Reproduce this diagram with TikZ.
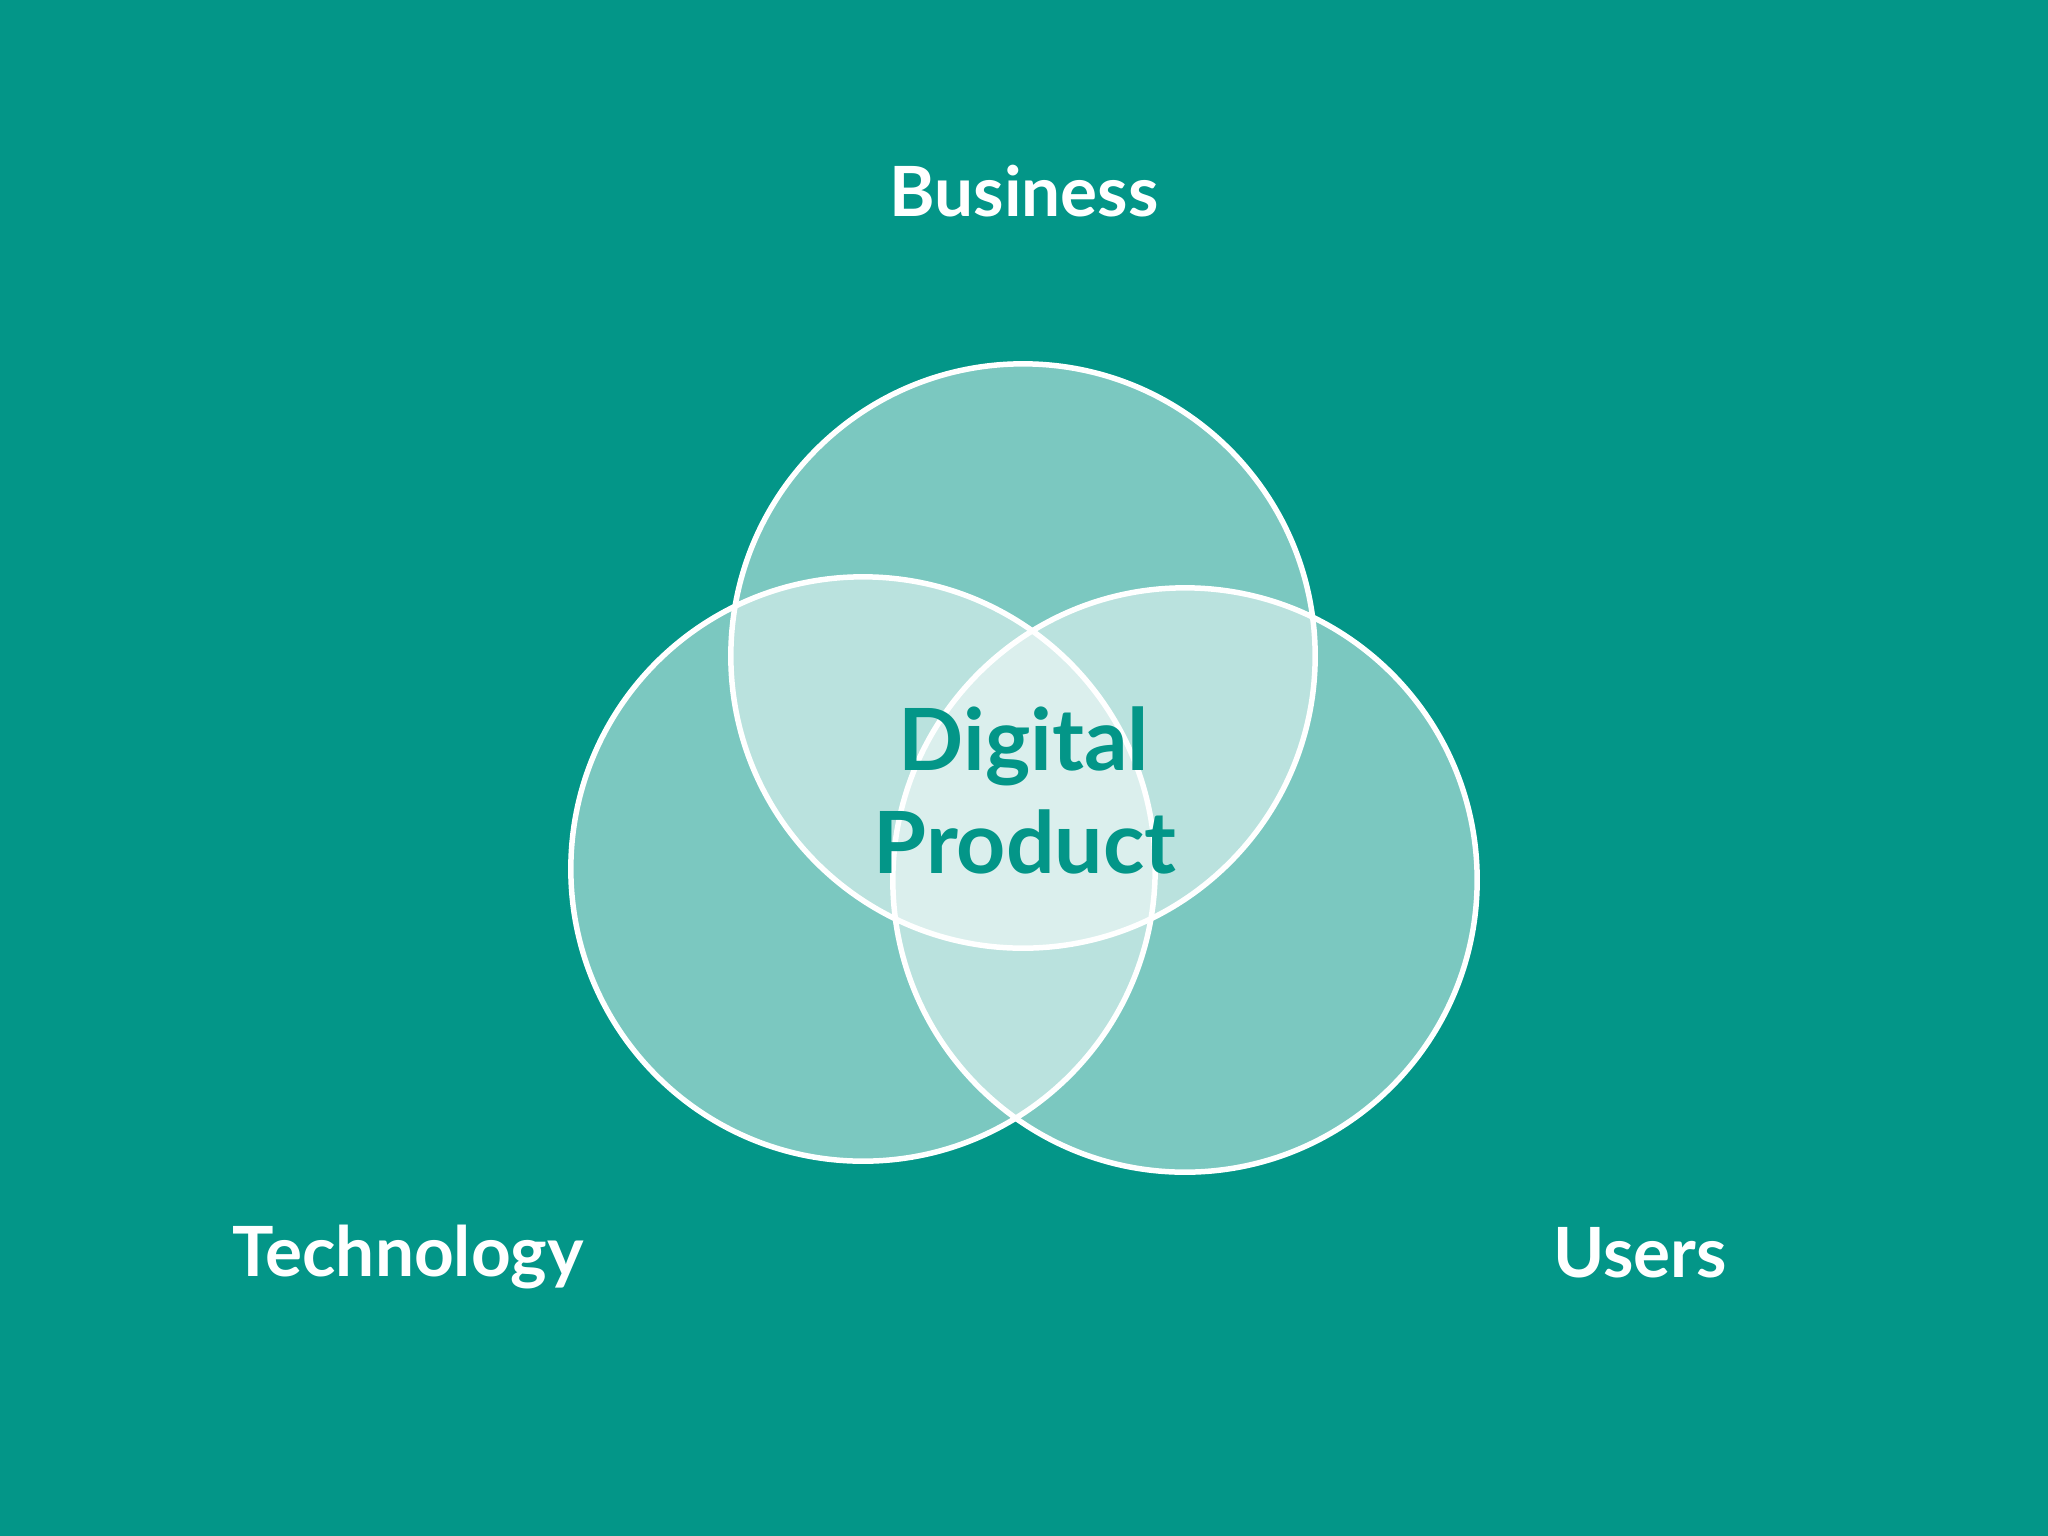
\documentclass[tikz,border=0pt]{standalone}
\usepackage{fontspec}
\setmainfont{Lato}
\usepackage{tikz}
\usetikzlibrary{positioning}
\definecolor{bgteal}{HTML}{039688}

\begin{document}
\begin{tikzpicture}[x=0.01cm,y=-0.01cm]
% Diagramme de Venn du produit numerique
\fill[bgteal] (0,0) rectangle (2048,1536);
\tikzset{set/.style={circle,draw=white,line width=5.5*0.01cm,fill=white,fill opacity=0.48,minimum size=5.84cm,inner sep=0pt}}
\tikzset{label/.style={text=white,font=\fontsize{19.7}{24}\selectfont\bfseries,anchor=base}}
\node[set] (biz) at (1023,656) {};
\node[set] (tech) at (863,869) {};
\node[set] (usr) at (1185,880) {};
\node[label] (lbiz) at (1024,216) {Business};
\node[label] (ltech) at (408,1276) {Technology};
\node[label] (lusr) at (1640,1277) {Users};
\node[label,text=bgteal,font=\fontsize{24.4}{29}\selectfont\bfseries] (digital) at (1024,770) {Digital};
\node[label,text=bgteal,font=\fontsize{24.4}{29}\selectfont\bfseries] (product) at (1025,873) {Product};
\end{tikzpicture}
\end{document}
